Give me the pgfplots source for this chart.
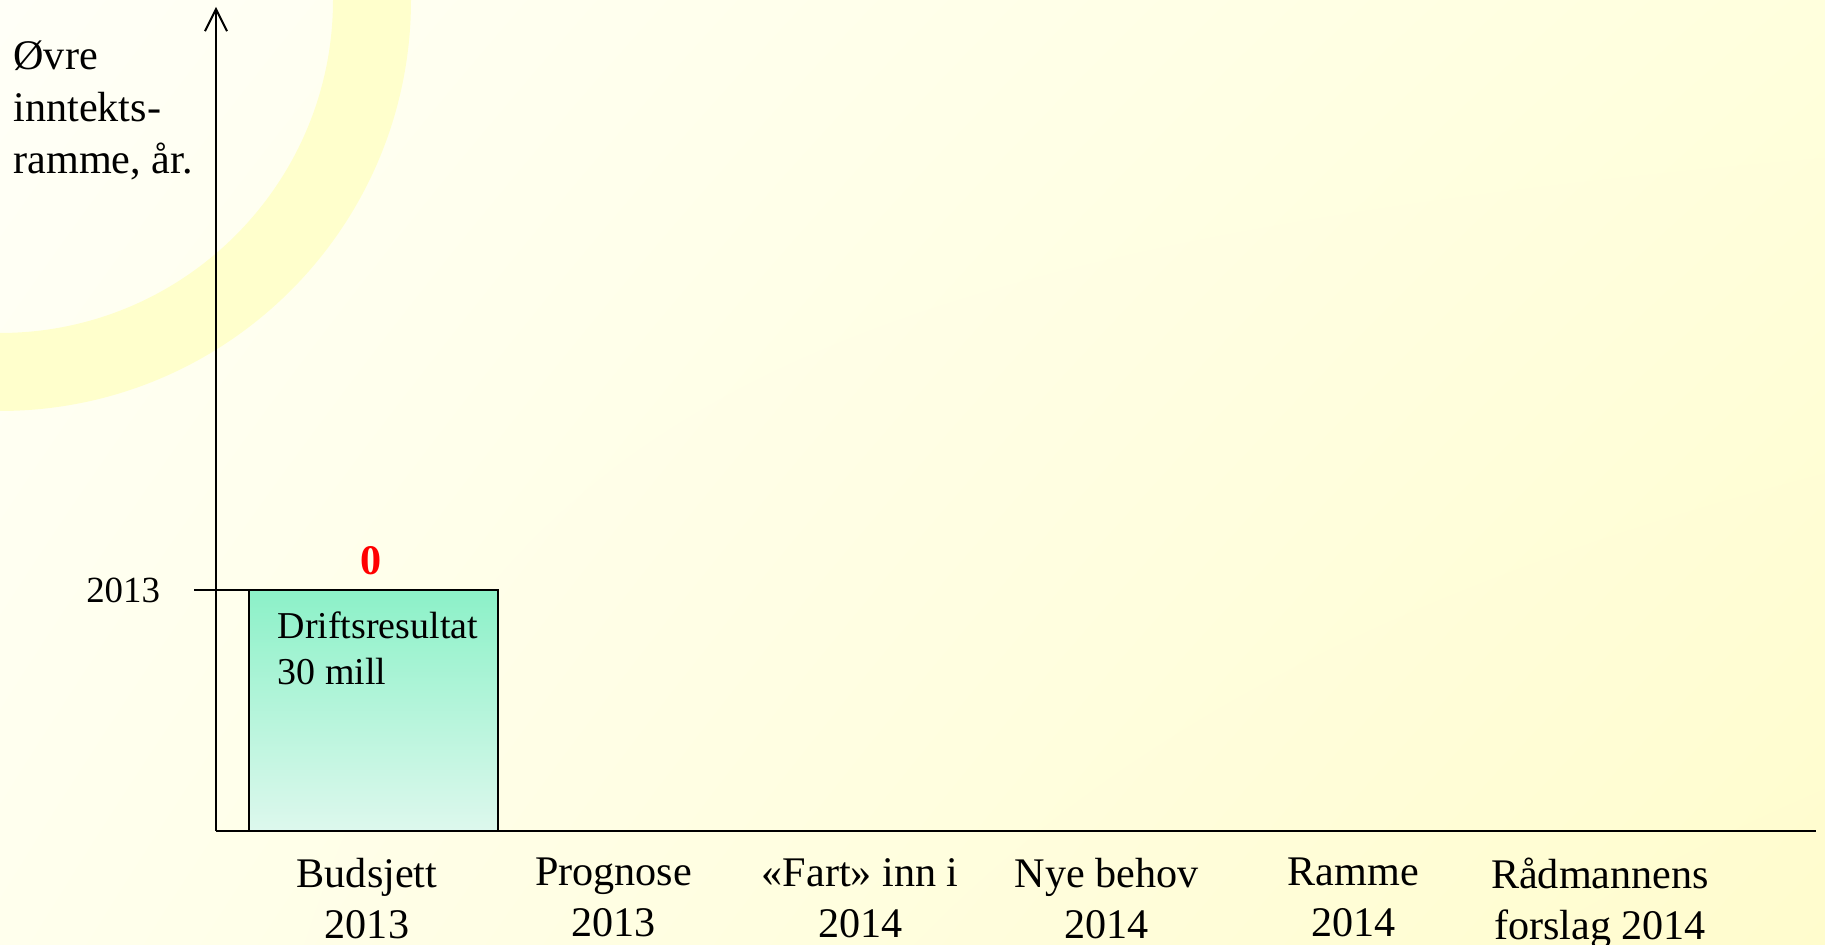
\documentclass[border=0pt]{standalone}
\usepackage{fontspec}
\setmainfont{Liberation Serif}
\usepackage{pgfplots}
\pgfplotsset{compat=1.18}
\usetikzlibrary{arrows.meta,shadings}
\definecolor{bgTL}{RGB}{255,255,247}
\definecolor{bgTR}{RGB}{255,255,221}
\definecolor{bgBL}{RGB}{255,255,237}
\definecolor{bgBR}{RGB}{255,252,205}
\definecolor{ring}{RGB}{255,255,204}
\definecolor{barTop}{RGB}{140,241,200}
\definecolor{barBot}{RGB}{221,248,237}
\begin{document}
\begin{tikzpicture}
% background (1 px = 0.1 mm)
\shade[upper left=bgTL, upper right=bgTR, lower left=bgBL, lower right=bgBR] (0,0) rectangle (182.5mm,94.5mm);
\begin{scope}
\clip (0,0) rectangle (182.5mm,94.5mm);
\fill[ring, even odd rule] (0,94.5mm) circle (41.1mm) (0,94.5mm) circle (33.3mm);
\end{scope}
\begin{axis}[
  at={(21.6mm,11.4mm)}, anchor=south west,
  scale only axis, width=160mm, height=82.4mm,
  xmin=-0.6123, xmax=5.876, ymin=0, ymax=3.419,
  axis lines=left,
  x axis line style={-, line width=0.7pt},
  y axis line style={-{Straight Barb[length=2.2mm,width=2.2mm,line width=0.55pt]}, line width=0.55pt},
  clip=false,
  xtick={0,1,2,3,4,5},
  xticklabels={{Budsjett\\2013},{Prognose\\2013},{«Fart» inn i\\2014},{Nye behov\\2014},{Ramme\\2014},{Rådmannens\\forslag 2014}},
  xticklabel style={font=\fontsize{12}{14.5}\selectfont, align=center, anchor=north, inner sep=0pt, yshift=-1.9mm},
  xtick style={draw=none},
  ytick={1}, yticklabels={2013},
  ytick style={draw=none},
  yticklabel style={font=\fontsize{10.5}{12}\selectfont, anchor=east, xshift=-3.6mm},
  ylabel={Øvre\\inntekts-\\ramme, år.},
  ylabel style={rotate=-90, at={(rel axis cs:-0.127,0.960)}, anchor=north west, align=left, inner sep=0pt, font=\fontsize{12}{14.8}\selectfont},
]
\addplot[ybar, bar width=1.009, draw=black, line width=0.6pt, top color=barTop, bottom color=barBot] coordinates {(0.026,1)};
\draw[line width=0.6pt] (axis cs:-0.7015,1) -- (axis cs:-0.478,1);
\node[anchor=south, inner sep=0pt, yshift=1.4mm, text=red, font=\fontsize{12}{14}\selectfont\bfseries] at (axis cs:0.016,1) {0};
\node[anchor=north west, inner sep=0pt, yshift=-2.1mm, align=left, font=\fontsize{10.8}{13}\selectfont] at (axis cs:-0.365,1) {Driftsresultat\\30 mill};
\end{axis}
\pgfresetboundingbox
\useasboundingbox (0,0) rectangle (182.5mm,94.5mm);
\end{tikzpicture}
\end{document}
